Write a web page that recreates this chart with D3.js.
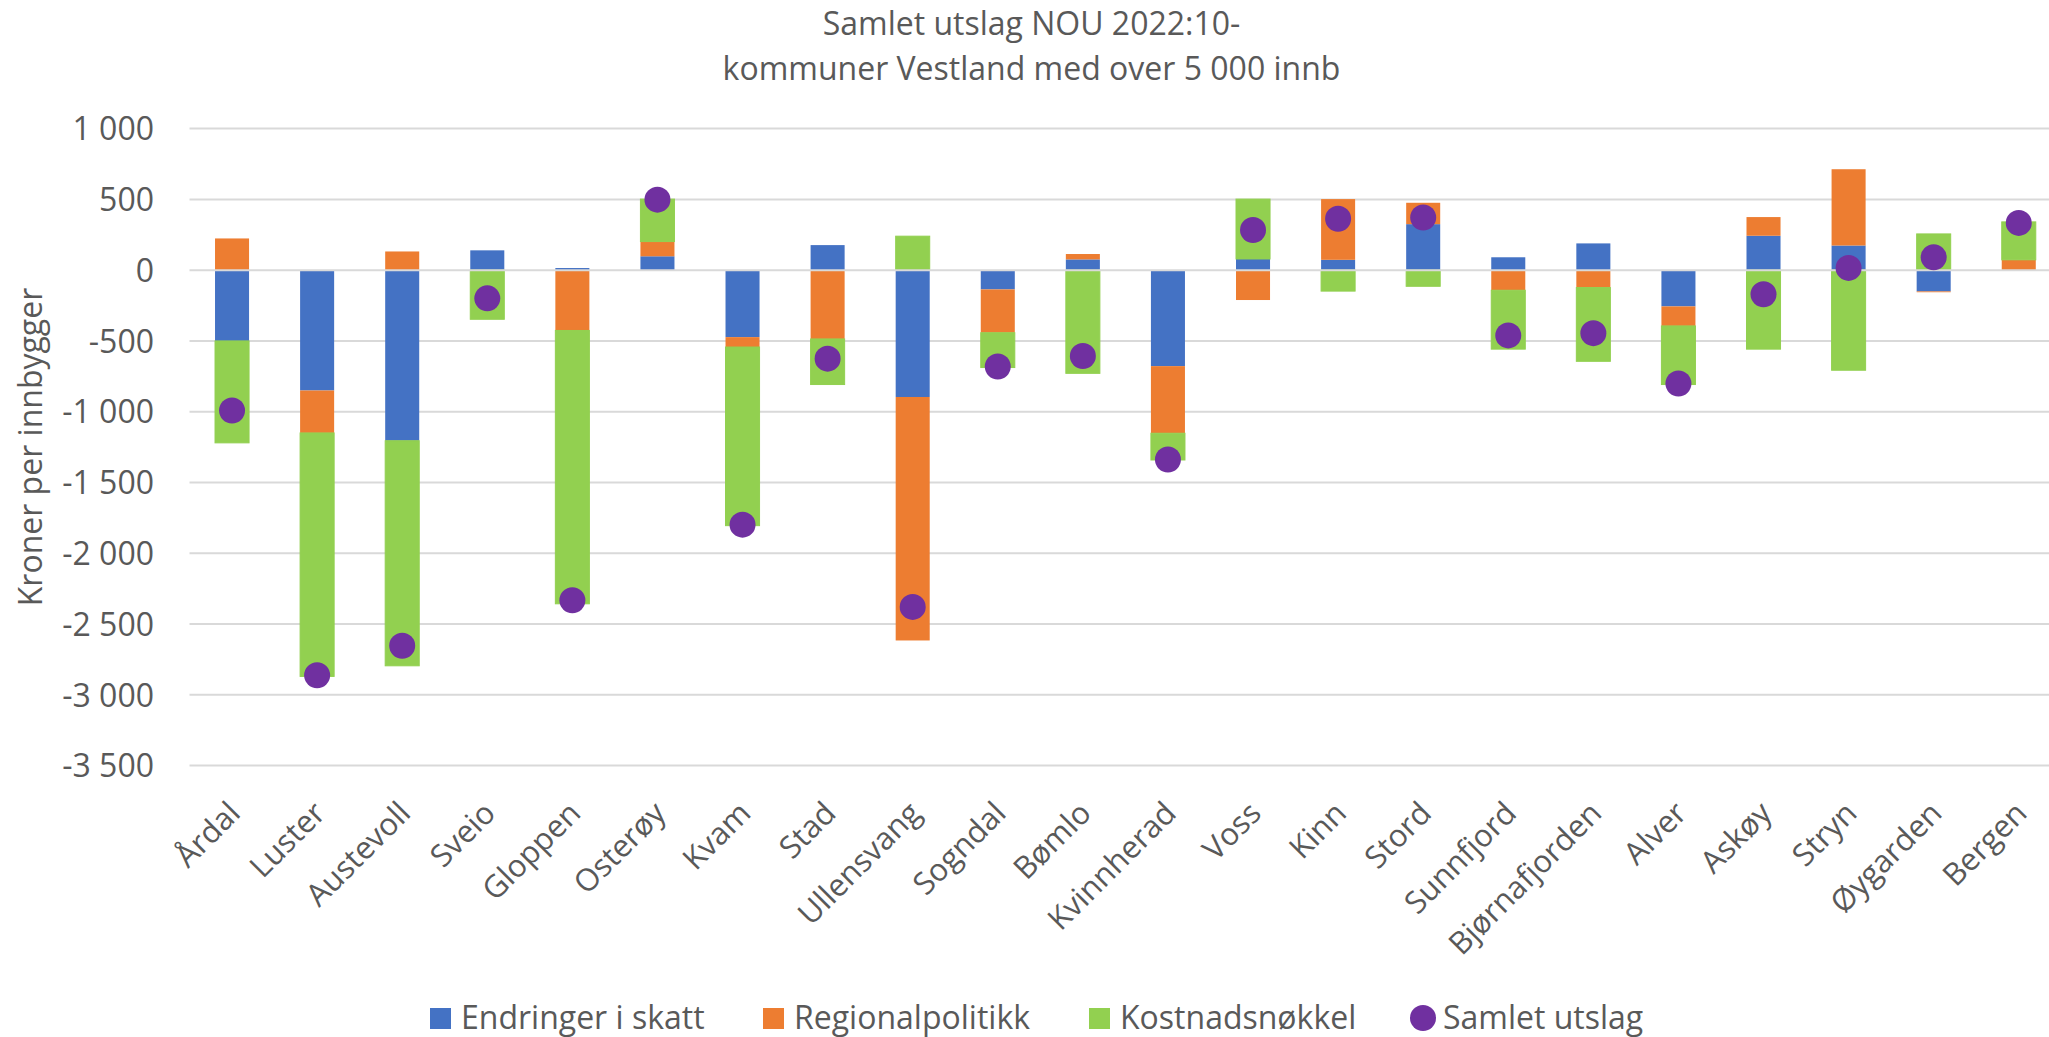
<!DOCTYPE html>
<html>
<head>
<meta charset="utf-8">
<script src="https://cdn.jsdelivr.net/npm/d3@7"></script>
<style>
  html, body { margin: 0; padding: 0; background: #fff; }
  svg { display: block; }
  text { font-family: "Open Sans", "Noto Sans", sans-serif; fill: #595959; }
</style>
</head>
<body>
<svg id="chart" width="2049" height="1037"></svg>
<script>
// Kommuner (municipalities), in chart order
const kommuner = ["Årdal","Luster","Austevoll","Sveio","Gloppen","Osterøy","Kvam","Stad","Ullensvang","Sogndal","Bømlo","Kvinnherad","Voss","Kinn","Stord","Sunnfjord","Bjørnafjorden","Alver","Askøy","Stryn","Øygarden","Bergen"];

// Kroner per innbygger for each component
const endringerISkatt = [-500, -850, -1205, 140, 15, 98, -473, 177, -896, -136, 76, -678, 79, 73, 325, 91, 189, -256, 243, 174, -150, 0];
const regionalpolitikk = [224, -300, 132, 0, -426, 104, -70, -486, -1720, -306, 38, -474, -211, 429, 151, -142, -123, -138, 132, 539, -6, 73];
const kostnadsnokkel = [-720, -1720, -1590, -347, -1931, 300, -1262, -322, 240, -246, -729, -189, 423, -148, -114, -416, -521, -414, -558, -707, 256, 268];
const samletUtslag = [-991, -2862, -2653, -199, -2332, 498, -1798, -625, -2379, -681, -606, -1338, 284, 363, 372, -461, -445, -801, -170, 16, 91, 334];

const yTicks = [1000, 500, 0, -500, -1000, -1500, -2000, -2500, -3000, -3500];

const seriesNames = ["Endringer i skatt", "Regionalpolitikk", "Kostnadsnøkkel"];
const seriesColors = ["#4472C4", "#ED7D31", "#92D050"];
const totalName = "Samlet utslag";
const totalColor = "#7030A0";

const titleLines = ["Samlet utslag NOU 2022:10-", "kommuner Vestland med over 5 000 innb"];
const yTitle = "Kroner per innbygger";

// Build rows for the stack
const rows = kommuner.map((k, i) => ({
  kommune: k,
  [seriesNames[0]]: endringerISkatt[i],
  [seriesNames[1]]: regionalpolitikk[i],
  [seriesNames[2]]: kostnadsnokkel[i],
  total: samletUtslag[i]
}));

const svg = d3.select("#chart");

const x = d3.scaleBand()
  .domain(kommuner)
  .range([189.5, 2061.3])
  .paddingInner(0.6)
  .paddingOuter(0.3);

const y = d3.scaleLinear()
  .domain([-3500, 1000])
  .range([765.6, 128.6]);

const locale = d3.formatLocale({ decimal: ",", thousands: "\u00a0", grouping: [3], currency: ["", " kr"], minus: "-" });
const fmt = locale.format(",d");

// Gridlines
const grid = svg.append("g").attr("class", "grid");
grid.selectAll("line")
  .data(yTicks.filter(t => t !== 0))
  .join("line")
  .attr("x1", x.range()[0]).attr("x2", x.range()[1])
  .attr("y1", d => y(d)).attr("y2", d => y(d))
  .attr("stroke", "#D9D9D9").attr("stroke-width", 2);

// Y axis labels
const yAxis = d3.axisLeft(y).tickValues(yTicks).tickFormat(fmt).tickSize(0).tickPadding(0);
const yg = svg.append("g").attr("transform", "translate(154,0)").call(yAxis);
yg.select(".domain").remove();
yg.selectAll("text")
  .attr("x", 0)
  .attr("dy", "0.35em")
  .style("font-family", "'Open Sans', sans-serif")
  .style("font-size", "32px")
  .attr("fill", "#595959");

// Stacked bars, positives and negatives diverging from zero
const stack = d3.stack().keys(seriesNames).offset(d3.stackOffsetDiverging);
const stacked = stack(rows);

const bars = svg.append("g").attr("class", "bars");
stacked.forEach((layer, li) => {
  bars.append("g")
    .attr("fill", seriesColors[li])
    .selectAll("rect")
    .data(layer)
    .join("rect")
    .attr("x", d => x(d.data.kommune))
    .attr("width", x.bandwidth())
    .attr("y", d => y(Math.max(d[0], d[1])))
    .attr("height", d => Math.abs(y(d[0]) - y(d[1])))
    .attr("stroke", li === 2 ? seriesColors[li] : "none")
    .attr("stroke-width", li === 2 ? 1 : 0);
});

// Horizontal axis line at zero
svg.append("line")
  .attr("x1", x.range()[0]).attr("x2", x.range()[1])
  .attr("y1", y(0)).attr("y2", y(0))
  .attr("stroke", "#D9D9D9").attr("stroke-width", 2);

// Total markers
svg.append("g").attr("class", "totals")
  .selectAll("circle")
  .data(rows)
  .join("circle")
  .attr("cx", d => x(d.kommune) + x.bandwidth() / 2)
  .attr("cy", d => y(d.total))
  .attr("r", 13)
  .attr("fill", totalColor);

// Category labels, rotated
const xAxis = d3.axisBottom(x).tickSize(0).tickPadding(0);
const xg = svg.append("g").attr("transform", "translate(0,815)").call(xAxis);
xg.select(".domain").remove();
xg.selectAll("text")
  .attr("y", 0)
  .attr("dy", 0)
  .attr("text-anchor", "end")
  .attr("transform", "translate(10,0) rotate(-45)")
  .style("font-family", "'Open Sans', sans-serif")
  .style("font-size", "31px")
  .attr("fill", "#595959");

// Title
svg.append("text")
  .attr("x", 1031.5).attr("text-anchor", "middle")
  .style("font-size", "32px")
  .selectAll("tspan")
  .data(titleLines)
  .join("tspan")
  .attr("x", 1031.5)
  .attr("y", (d, i) => i === 0 ? 35 : 80)
  .text(d => d);

// Y axis title
svg.append("text")
  .attr("transform", "translate(42,447) rotate(-90)")
  .attr("text-anchor", "middle")
  .style("font-size", "32px")
  .text(yTitle);

// Legend
const legendItems = seriesNames.map((n, i) => ({ name: n, color: seriesColors[i], type: "rect" }))
  .concat([{ name: totalName, color: totalColor, type: "circle" }]);
const legendX = [430, 763, 1089, 1410];
const legend = svg.append("g").attr("class", "legend");
legendItems.forEach((item, i) => {
  const g = legend.append("g").attr("transform", `translate(${legendX[i]},0)`);
  if (item.type === "rect") {
    g.append("rect").attr("x", 0).attr("y", 1008).attr("width", 21).attr("height", 21).attr("fill", item.color);
    g.append("text").attr("x", 31).attr("y", 1029).style("font-size", "32px").text(item.name);
  } else {
    g.append("circle").attr("cx", 13).attr("cy", 1018).attr("r", 13).attr("fill", item.color);
    g.append("text").attr("x", 33).attr("y", 1029).style("font-size", "32px").text(item.name);
  }
});
</script>
</body>
</html>
